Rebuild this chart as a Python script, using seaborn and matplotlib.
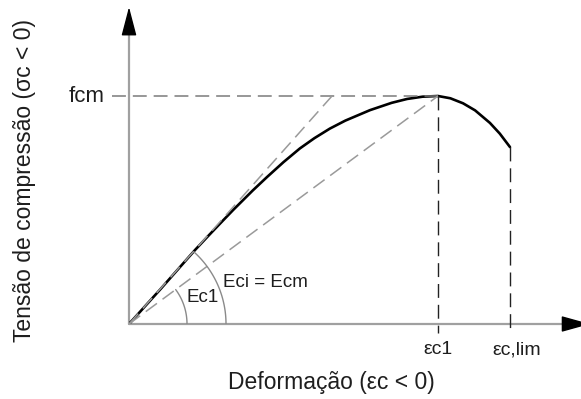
import numpy as np
import pandas as pd
import matplotlib
matplotlib.use("Agg")
import matplotlib.pyplot as plt
import seaborn as sns

# ---- data (normalised: strain / eps_c1, stress / fcm) ----
curve_eta = [0.000, 0.100, 0.214, 0.252, 0.300, 0.337, 0.400, 0.447, 0.500, 0.553,
             0.600, 0.650, 0.700, 0.780, 0.850, 0.900, 0.950, 1.000, 1.040, 1.081,
             1.120, 1.168, 1.200, 1.233]
curve_sigma = [0.000, 0.150, 0.325, 0.380, 0.448, 0.500, 0.585, 0.645, 0.710, 0.770,
               0.815, 0.857, 0.892, 0.938, 0.970, 0.987, 0.997, 1.000, 0.990, 0.968,
               0.937, 0.882, 0.835, 0.776]
tangent_eta = [0.0, 0.657]     # Eci = Ecm
tangent_sigma = [0.0, 1.0]
secant_eta = [0.0, 1.0]        # Ec1
secant_sigma = [0.0, 1.0]
eps_c1 = 1.0
eps_clim = 1.233
sigma_clim = 0.776
fcm = 1.0

label_fcm = "fcm"
label_ec1 = "εc1"
label_eclim = "εc,lim"
label_Ec1 = "Ec1"
label_Eci = "Eci = Ecm"
xlabel = "Deformação (εc < 0)"
ylabel = "Tensão de compressão (σc < 0)"

df = pd.DataFrame({"eta": curve_eta, "sigma": curve_sigma})

sns.set_style("white")
plt.rcParams["font.family"] = ["Liberation Sans", "DejaVu Sans"]
plt.rcParams["lines.scale_dashes"] = False

W, H = 581, 399
fig = plt.figure(figsize=(W / 100, H / 100), dpi=100)
ax = fig.add_axes([129 / W, (H - 324) / H, 451 / W, 317 / H])

# main curve
sns.lineplot(data=df, x="eta", y="sigma", sort=False, color="black", lw=1.9, ax=ax,
             estimator=None)
ax.set_xlabel("")
ax.set_ylabel("")
ax.set_xlim(0, 451 / 309)
ax.set_ylim(0, 317 / 228)
for s in ax.spines.values():
    s.set_visible(False)
ax.set_xticks([])
ax.set_yticks([])

dash = (0, (10, 5))
# guide lines
ax.plot([-0.055, eps_c1], [fcm, fcm], color="#7a7a7a", lw=1.1, ls=dash, clip_on=False)
ax.plot(tangent_eta, tangent_sigma, color="#9a9a9a", lw=1.1, ls=dash)
ax.plot(secant_eta, secant_sigma, color="#9a9a9a", lw=1.1, ls=dash)
ax.plot([eps_c1, eps_c1], [fcm, -0.04], color="#222222", lw=1.0, ls=dash, clip_on=False)
ax.plot([eps_clim, eps_clim], [sigma_clim, -0.04], color="#222222", lw=1.0, ls=dash, clip_on=False)

# axes with arrows
ymax_base = (324 - 32) / 228
xmax_base = (565 - 129) / 309
ax.plot([0, 0], [0, ymax_base], color="#a0a0a0", lw=1.6, clip_on=False, zorder=1)
ax.plot([0, xmax_base], [0, 0], color="#a0a0a0", lw=1.6, clip_on=False, zorder=1)
ax.annotate("", xy=(0, 317 / 228), xytext=(0, ymax_base),
            arrowprops=dict(arrowstyle="-|>,head_length=1.8,head_width=0.47",
                            mutation_scale=10, color="black", lw=1,
                            shrinkA=0, shrinkB=0), annotation_clip=False)
ax.annotate("", xy=((590 - 129) / 309, 0), xytext=(xmax_base, 0),
            arrowprops=dict(arrowstyle="-|>,head_length=1.8,head_width=0.5",
                            mutation_scale=10, color="black", lw=1,
                            shrinkA=0, shrinkB=0), annotation_clip=False)

# angle arcs (circles in display space)
o = ax.transData.transform((0, 0))
px = ax.transData.transform((1, 1)) - o
sx, sy = px[0], px[1]

def arc(r, eta_end, sig_end):
    ang = np.arctan2(sig_end * sy, eta_end * sx)
    t = np.linspace(0, ang, 60)
    ax.plot(r * np.cos(t) / sx, r * np.sin(t) / sy, color="#8a8a8a", lw=1.0)

arc(58, secant_eta[1], secant_sigma[1])
arc(97, tangent_eta[1], tangent_sigma[1])

# labels
tc = "#1e1e1e"
ax.text(-0.078, fcm, label_fcm, ha="right", va="center", fontsize=16, color=tc)
ax.text(eps_c1, -0.114, label_ec1, ha="center", va="center", fontsize=14, color=tc)
ax.text(1.256, -0.114, label_eclim, ha="center", va="center", fontsize=14, color=tc)
ax.text(0.239, 0.118, label_Ec1, ha="center", va="center", fontsize=13.5, color=tc)
ax.text(0.44, 0.184, label_Eci, ha="center", va="center", fontsize=13.5, color=tc)

fig.text(331 / W, 1 - 383 / H, xlabel, ha="center", va="center", fontsize=16.5, color=tc)
fig.text(25 / W, 1 - 180 / H, ylabel, ha="center", va="center", rotation=90,
         fontsize=16.5, color=tc)

fig.savefig("out.png", dpi=100)
